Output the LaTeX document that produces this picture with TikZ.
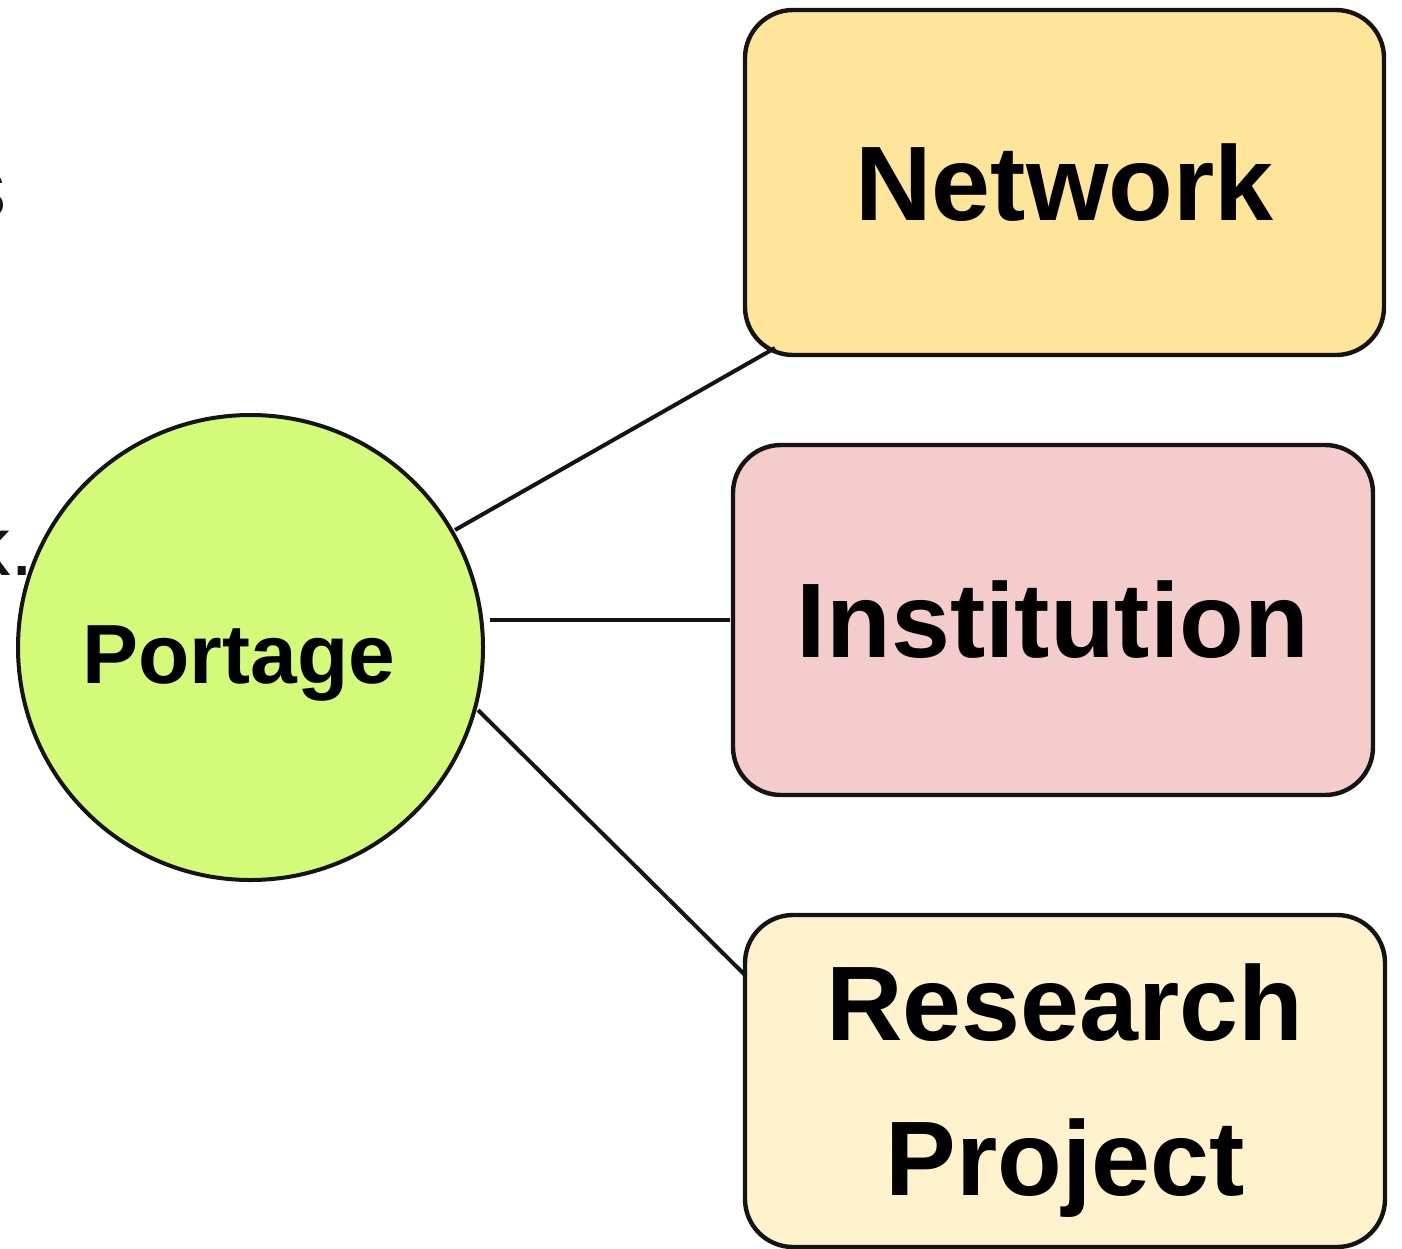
\documentclass[tikz,border=0pt]{standalone}
\usepackage{fontspec}
\setmainfont{Liberation Sans}
\definecolor{cgreen}{RGB}{212,250,122}
\definecolor{cnet}{RGB}{255,229,153}
\definecolor{cinst}{RGB}{244,204,204}
\definecolor{cres}{RGB}{255,242,204}
\definecolor{cline}{RGB}{20,20,20}
\begin{document}
\begin{tikzpicture}[x=0.5pt,y=-0.5pt,
  box/.style={draw=cline, line width=2.2pt, rounded corners=24pt, inner sep=0pt,
    font=\fontsize{53}{60}\selectfont\bfseries},
  conn/.style={draw=cline, line width=2pt},
  lbl/.style={inner sep=0pt, anchor=base, font=\fontsize{53}{60}\selectfont\bfseries},
  side/.style={inner sep=0pt, anchor=base east, text=cline, font=\fontsize{42}{48}\selectfont}]
\useasboundingbox (0,0) rectangle (1402,1248);
% partial side texts
\node[side] (s1) at (7,217) {s};
\node[side] (s2) at (34,575) {k.};
% boxes
\node[box, fill=cnet, minimum width=319.5pt, minimum height=172.5pt] (network) at (1064.5,182.5) {Network};
\node[box, fill=cinst, minimum width=320pt, minimum height=175pt] (inst) at (1053,620) {Institution};
\node[box, fill=cres, minimum width=320pt, minimum height=166pt] (res) at (1065,1081) {};
\node[lbl] (rt1) at (1065,1040) {Research};
\node[lbl] (rt2) at (1065,1195) {Project};
% circle
\node[draw=cline, line width=2pt, fill=cgreen, circle, minimum size=232.5pt, inner sep=0pt] (portage) at (250.5,647.5) {};
\node[lbl, font=\fontsize{42}{48}\selectfont\bfseries] (pt) at (239,683) {Portage};
% connector end points
\coordinate (a1) at (455,530);
\coordinate (a2) at (775,348);
\coordinate (b1) at (490,620);
\coordinate (b2) at (730,620);
\coordinate (c1) at (478,710);
\coordinate (c2) at (746,976);
\draw[conn] (a1) -- (a2);
\draw[conn] (b1) -- (b2);
\draw[conn] (c1) -- (c2);
\end{tikzpicture}
\end{document}
